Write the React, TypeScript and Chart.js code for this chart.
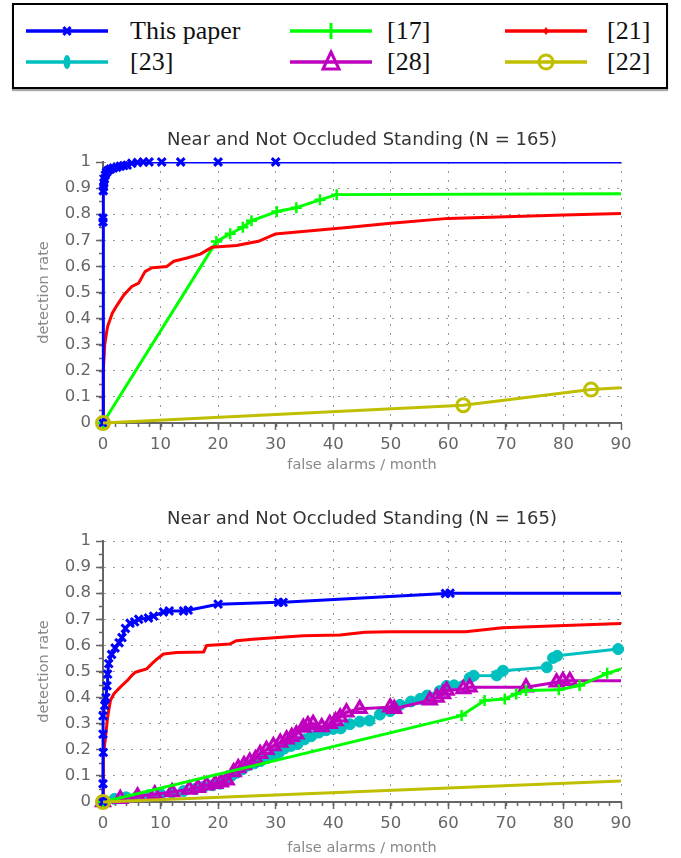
import React, { useEffect, useRef } from 'react';
import { Chart, registerables } from 'chart.js';

Chart.register(...registerables);
Chart.defaults.font.family = "'DejaVu Sans', sans-serif";

// ---------- text ----------
const PANEL_TITLE = 'Near and Not Occluded Standing (N = 165)';
const X_TITLE = 'false alarms / month';
const Y_TITLE = 'detection rate';
const LEGEND_LABELS = ['This paper', '[17]', '[21]', '[23]', '[28]', '[22]'];

// ---------- top panel data ----------
const topPaperX = [0, 0, 0, 0.05, 0.1, 0.15, 0.25, 0.4, 0.6, 0.9, 1.3, 1.8, 2.4, 3.0, 3.6, 4.2, 5.0, 6.0, 7.0, 8.0, 10.2, 13.5, 20.0, 30.0, 90];
const topPaperY = [0, 0.77, 0.785, 0.89, 0.905, 0.92, 0.935, 0.95, 0.96, 0.968, 0.973, 0.977, 0.98, 0.984, 0.986, 0.988, 0.995, 0.998, 1, 1, 1, 1, 1, 1, 1];

const top17X = [0, 19.7, 22.1, 24.3, 25.8, 30.2, 33.6, 37.7, 40.6, 90];
const top17Y = [0, 0.695, 0.725, 0.75, 0.775, 0.81, 0.825, 0.855, 0.875, 0.878];

const top21X = [0, 0, 0.1, 0.3, 0.6, 0.8, 1.6, 2.4, 3.6, 5.0, 6.2, 7.3, 8.5, 9.7, 11.1, 12.3, 14.6, 16.9, 18.9, 23.2, 27, 29.9, 42.9, 50, 60, 70, 80, 90];
const top21Y = [0, 0.05, 0.2, 0.3, 0.344, 0.37, 0.42, 0.45, 0.49, 0.523, 0.536, 0.58, 0.595, 0.597, 0.6, 0.62, 0.632, 0.647, 0.673, 0.68, 0.696, 0.724, 0.75, 0.765, 0.784, 0.79, 0.797, 0.803];

const top22X = [0, 62.6, 84.8, 90];
const top22Y = [0, 0.068, 0.128, 0.135];

// ---------- bottom panel data ----------
const botPaperX = [0, 0, 0.05, 0, 0, 0.3, 0.5, 0.7, 0.8, 1.0, 1.5, 2.1, 2.8, 3.3, 3.9, 4.7, 5.5, 6.2, 7.9, 8.8, 10.5, 11.5, 14, 14.8, 20, 30.5, 31.3, 59.5, 60.3, 90];
const botPaperY = [0, 0.07, 0.19, 0.26, 0.33, 0.37, 0.40, 0.445, 0.49, 0.53, 0.565, 0.59, 0.61, 0.63, 0.665, 0.685, 0.69, 0.70, 0.705, 0.712, 0.728, 0.732, 0.732, 0.735, 0.758, 0.765, 0.765, 0.799, 0.80, 0.80];

const bot17X = [0, 62.3, 66.3, 69.8, 71.8, 73.5, 79.2, 82.8, 87.6, 90];
const bot17Y = [0, 0.331, 0.389, 0.395, 0.414, 0.427, 0.43, 0.446, 0.493, 0.51];

const bot21X = [0, 0, 0.1, 0.4, 0.8, 1.3, 1.9, 3.0, 4.2, 5.0, 5.6, 6.5, 7.6, 8.5, 9.4, 10.5, 12.8, 17.5, 18, 22, 23.2, 26, 34.8, 41.2, 45.5, 50, 63, 69.4, 90];
const bot21Y = [0, 0.11, 0.18, 0.24, 0.325, 0.39, 0.415, 0.44, 0.465, 0.485, 0.497, 0.503, 0.51, 0.53, 0.548, 0.567, 0.573, 0.575, 0.6, 0.605, 0.618, 0.624, 0.637, 0.64, 0.65, 0.652, 0.652, 0.668, 0.684];

const bot23X = [0, 2, 4, 6, 8, 10, 12, 14, 16, 17.5, 19, 20.3, 21.3, 22.3, 23.2, 24.2, 25.2, 26.3, 27.4, 28.5, 29.6, 30.6, 31.5, 32.7, 33.8, 35, 36.2, 37.5, 38.8, 40, 41.3, 42.9, 44.6, 46.3, 48.1, 49.9, 51.6, 53.5, 55.1, 56.3, 58.5, 59.7, 61, 63.7, 64.4, 68.4, 69.5, 77.1, 78.2, 78.9, 89.5];
const bot23Y = [0, 0.012, 0.018, 0.022, 0.026, 0.03, 0.036, 0.042, 0.05, 0.058, 0.064, 0.07, 0.085, 0.1, 0.112, 0.125, 0.14, 0.148, 0.157, 0.168, 0.18, 0.19, 0.205, 0.215, 0.222, 0.24, 0.252, 0.266, 0.275, 0.28, 0.282, 0.298, 0.308, 0.312, 0.335, 0.348, 0.372, 0.385, 0.395, 0.408, 0.425, 0.445, 0.447, 0.475, 0.484, 0.485, 0.503, 0.516, 0.552, 0.56, 0.586];

const bot28X = [0, 3, 6, 9, 12, 15, 16.5, 18, 19.5, 20.5, 21.5, 22.7, 23.5, 24.5, 25.5, 26.5, 27.3, 28.4, 29.6, 30.8, 31.9, 32.8, 33.6, 34.8, 35.6, 36.5, 38, 39.4, 40.4, 41.2, 42.3, 44.6, 49.9, 50.6, 56.8, 58, 59.1, 59.7, 62.6, 63.7, 73.5, 78.8, 79.9, 81.1, 90];
const bot28Y = [0, 0.012, 0.022, 0.03, 0.038, 0.048, 0.055, 0.064, 0.07, 0.076, 0.083, 0.115, 0.13, 0.142, 0.155, 0.165, 0.185, 0.2, 0.215, 0.228, 0.24, 0.25, 0.26, 0.285, 0.295, 0.3, 0.287, 0.3, 0.31, 0.325, 0.344, 0.357, 0.363, 0.357, 0.39, 0.4, 0.414, 0.427, 0.433, 0.44, 0.44, 0.459, 0.465, 0.465, 0.465];

const bot22X = [0, 90];
const bot22Y = [0, 0.08];

// ---------- axes ----------
const X_MIN = 0, X_MAX = 90, X_STEP = 10, X_MINOR = 2;
const Y_MIN = 0, Y_MAX = 1, Y_STEP = 0.1, Y_MINOR = 0.05;

// ---------- styles ----------
type Style = { color: string; pointStyle: string; radius: number; markerWidth: number; fill: string; lineWidth: number };
const S_PAPER: Style = { color: '#0000ff', pointStyle: 'crossRot', radius: 5.5, markerWidth: 3, fill: 'rgba(0,0,0,0)', lineWidth: 3 };
const S_17: Style = { color: '#00ff00', pointStyle: 'cross', radius: 5.5, markerWidth: 2.5, fill: 'rgba(0,0,0,0)', lineWidth: 3 };
const S_21: Style = { color: '#ff0000', pointStyle: 'circle', radius: 0, markerWidth: 1, fill: '#ff0000', lineWidth: 3 };
const S_23: Style = { color: '#00bfbf', pointStyle: 'circle', radius: 5.5, markerWidth: 1, fill: '#00bfbf', lineWidth: 3 };
const S_28: Style = { color: '#bf00bf', pointStyle: 'triangle', radius: 7.5, markerWidth: 3, fill: 'rgba(191,0,191,0.35)', lineWidth: 3 };
const S_22: Style = { color: '#bfbf00', pointStyle: 'circle', radius: 6.5, markerWidth: 3, fill: 'rgba(0,0,0,0)', lineWidth: 3 };

const AXIS_COLOR = '#666';
const GRID_COLOR = '#9a9a9a';

type Series = { label: string; xs: number[]; ys: number[]; style: Style; endMarker: boolean };

function buildDatasets(series: Series[]) {
  const out: any[] = [];
  series.forEach((s, k) => {
    const pts = s.xs.map((x, i) => ({ x, y: s.ys[i] }));
    out.push({
      label: s.label,
      data: pts,
      borderColor: s.style.color,
      backgroundColor: s.style.color,
      borderWidth: s.style.lineWidth,
      borderJoinStyle: 'round',
      pointRadius: 0,
      pointHoverRadius: 0,
      tension: 0,
      fill: false,
      order: 100 - 2 * k,
      clip: { left: false, top: 0, right: 0, bottom: false },
    });
    if (s.style.radius > 0) {
      out.push({
        label: s.label + ' markers',
        data: s.endMarker ? pts : pts.slice(0, -1),
        showLine: false,
        borderColor: s.style.color,
        backgroundColor: s.style.fill,
        pointStyle: s.style.pointStyle,
        pointRadius: s.style.radius,
        pointHoverRadius: s.style.radius,
        pointBorderWidth: s.style.markerWidth,
        pointBorderColor: s.style.color,
        pointBackgroundColor: s.style.fill,
        order: 99 - 2 * k,
        clip: false,
      });
    }
  });
  return out;
}

const minorTicksPlugin = {
  id: 'minorTicks',
  beforeDatasetsDraw(chart: any) {
    const { ctx, chartArea, scales } = chart;
    const x = scales.x, y = scales.y;
    ctx.save();
    ctx.strokeStyle = AXIS_COLOR;
    ctx.lineWidth = 1.5;
    ctx.beginPath();
    for (let v = X_MIN + X_MINOR; v < X_MAX; v += X_MINOR) {
      const px = Math.round(x.getPixelForValue(v)) + 0.5;
      ctx.moveTo(px, chartArea.bottom);
      ctx.lineTo(px, chartArea.bottom + 4);
    }
    for (let v = Y_MIN + Y_MINOR; v < Y_MAX; v += Y_MINOR) {
      const py = Math.round(y.getPixelForValue(v)) + 0.5;
      ctx.moveTo(chartArea.left, py);
      ctx.lineTo(chartArea.left - 4, py);
    }
    ctx.stroke();
    ctx.restore();
  },
};

type PanelLayout = { titleTop: number; titleBottom: number; xHeight: number; xTitleBottom: number; xTickPad: number };

function makeConfig(series: Series[], L: PanelLayout): any {
  return {
    type: 'line',
    data: { datasets: buildDatasets(series) },
    plugins: [minorTicksPlugin],
    options: {
      responsive: false,
      maintainAspectRatio: false,
      animation: false,
      events: [],
      layout: { padding: { left: 0, right: 60, top: 0, bottom: 0 } },
      plugins: {
        legend: { display: false },
        tooltip: { enabled: false },
        title: {
          display: true,
          text: PANEL_TITLE,
          color: '#333',
          fullSize: false,
          font: { size: 18, weight: 'normal' },
          padding: { top: L.titleTop, bottom: L.titleBottom },
        },
      },
      scales: {
        x: {
          type: 'linear',
          min: X_MIN,
          max: X_MAX,
          ticks: { stepSize: X_STEP, color: AXIS_COLOR, font: { size: 16.5 }, padding: L.xTickPad, maxRotation: 0, autoSkip: false },
          grid: { color: GRID_COLOR, lineWidth: 1, drawTicks: true, tickLength: 7, tickColor: AXIS_COLOR, tickWidth: 1.5 },
          border: { color: AXIS_COLOR, width: 2, dash: [2, 7] },
          title: { display: true, text: X_TITLE, color: '#888', font: { size: 14.5 }, padding: { top: 0, bottom: L.xTitleBottom } },
          afterFit: (s: any) => { s.height = L.xHeight; },
        },
        y: {
          type: 'linear',
          min: Y_MIN,
          max: Y_MAX,
          ticks: {
            stepSize: Y_STEP,
            color: AXIS_COLOR,
            font: { size: 16.5 },
            padding: 5,
            autoSkip: false,
            callback: (v: number) => String(Math.round(v * 10) / 10),
          },
          grid: { color: GRID_COLOR, lineWidth: 1, drawTicks: true, tickLength: 7, tickColor: AXIS_COLOR, tickWidth: 1.5 },
          border: { color: AXIS_COLOR, width: 2, dash: [2, 7] },
          title: { display: true, text: Y_TITLE, color: '#888', font: { size: 14.5 }, padding: { top: 36, bottom: 0 } },
          afterFit: (s: any) => { s.width = 103; },
        },
      },
    },
  };
}

const topSeries: Series[] = [
  { label: LEGEND_LABELS[1], xs: top17X, ys: top17Y, style: S_17, endMarker: false },
  { label: LEGEND_LABELS[2], xs: top21X, ys: top21Y, style: S_21, endMarker: false },
  { label: LEGEND_LABELS[0], xs: topPaperX, ys: topPaperY, style: S_PAPER, endMarker: false },
  { label: LEGEND_LABELS[5], xs: top22X, ys: top22Y, style: S_22, endMarker: false },
];

const bottomSeries: Series[] = [
  { label: LEGEND_LABELS[3], xs: bot23X, ys: bot23Y, style: S_23, endMarker: true },
  { label: LEGEND_LABELS[4], xs: bot28X, ys: bot28Y, style: S_28, endMarker: false },
  { label: LEGEND_LABELS[1], xs: bot17X, ys: bot17Y, style: S_17, endMarker: false },
  { label: LEGEND_LABELS[2], xs: bot21X, ys: bot21Y, style: S_21, endMarker: false },
  { label: LEGEND_LABELS[0], xs: botPaperX, ys: botPaperY, style: S_PAPER, endMarker: false },
  { label: LEGEND_LABELS[5], xs: bot22X, ys: bot22Y, style: S_22, endMarker: false },
];

function Panel({ series, layout, top }: { series: Series[]; layout: PanelLayout; top: number }) {
  const ref = useRef<HTMLCanvasElement>(null);
  useEffect(() => {
    if (!ref.current) return;
    const chart = new Chart(ref.current, makeConfig(series, layout));
    return () => chart.destroy();
  }, []);
  return (
    <canvas
      ref={ref}
      width={681}
      height={360}
      style={{ position: 'absolute', left: 0, top, width: 681, height: 360 }}
    />
  );
}

function Marker({ kind, color }: { kind: string; color: string }) {
  const cx = 41, cy = 15;
  if (kind === 'x') {
    return (
      <g stroke={color} strokeWidth={3}>
        <line x1={cx - 3.5} y1={cy - 4} x2={cx + 3.5} y2={cy + 4} />
        <line x1={cx + 3.5} y1={cy - 4} x2={cx - 3.5} y2={cy + 4} />
      </g>
    );
  }
  if (kind === '+') return <line x1={cx} y1={cy - 8} x2={cx} y2={cy + 8} stroke={color} strokeWidth={3} />;
  if (kind === '.') return <polygon points={`${cx},${cy - 4} ${cx + 3},${cy} ${cx},${cy + 4} ${cx - 3},${cy}`} fill={color} />;
  if (kind === 'dot') return <ellipse cx={cx} cy={cy} rx={3.5} ry={7} fill={color} />;
  if (kind === '^') return <polygon points={`${cx},${cy - 10} ${cx + 8},${cy + 7} ${cx - 8},${cy + 7}`} fill="none" stroke={color} strokeWidth={3} />;
  return <circle cx={cx} cy={cy} r={7} fill="none" stroke={color} strokeWidth={3} />;
}

const LEGEND_KINDS = ['x', '+', '.', 'dot', '^', 'o'];
const LEGEND_COLORS = [S_PAPER.color, S_17.color, S_21.color, S_23.color, S_28.color, S_22.color];

function Legend() {
  const lineLeft = [26, 290, 505];
  const textLeft = [130, 387, 607];
  const rowCenter = [31, 62];
  return (
    <div
      style={{
        position: 'absolute', left: 12, top: 3, width: 656, height: 86, boxSizing: 'border-box',
        border: '2px solid #000', background: '#fff', boxShadow: '0 2px 1px rgba(0,0,0,0.35)',
      }}
    >
      {LEGEND_LABELS.map((lab, i) => {
        const col = i % 3, row = Math.floor(i / 3);
        return (
          <React.Fragment key={lab}>
            <svg
              width={84}
              height={30}
              style={{ position: 'absolute', left: lineLeft[col] - 14, top: rowCenter[row] - 3 - 15 - 2 }}
            >
              <line x1={0} y1={15} x2={82} y2={15} stroke={LEGEND_COLORS[i]} strokeWidth={3.5} />
              <Marker kind={LEGEND_KINDS[i]} color={LEGEND_COLORS[i]} />
            </svg>
            <div
              style={{
                position: 'absolute', left: textLeft[col] - 14, top: rowCenter[row] - 3 - 16 - 2, height: 32, lineHeight: '32px',
                fontFamily: "'Liberation Serif', 'Times New Roman', serif", fontSize: 26, color: '#111', whiteSpace: 'nowrap',
              }}
            >
              {lab}
            </div>
          </React.Fragment>
        );
      })}
    </div>
  );
}

export default function App() {
  return (
    <div style={{ position: 'absolute', left: 0, top: 0, width: 681, height: 858, background: '#fff', overflow: 'hidden' }}>
      <Legend />
      <Panel
        series={topSeries}
        top={118}
        layout={{ titleTop: 12, titleBottom: 10.4, xHeight: 55, xTitleBottom: 4.3, xTickPad: 5 }}
      />
      <Panel
        series={bottomSeries}
        top={498}
        layout={{ titleTop: 10.2, titleBottom: 11.2, xHeight: 56, xTitleBottom: 1.3, xTickPad: 5 }}
      />
    </div>
  );
}
